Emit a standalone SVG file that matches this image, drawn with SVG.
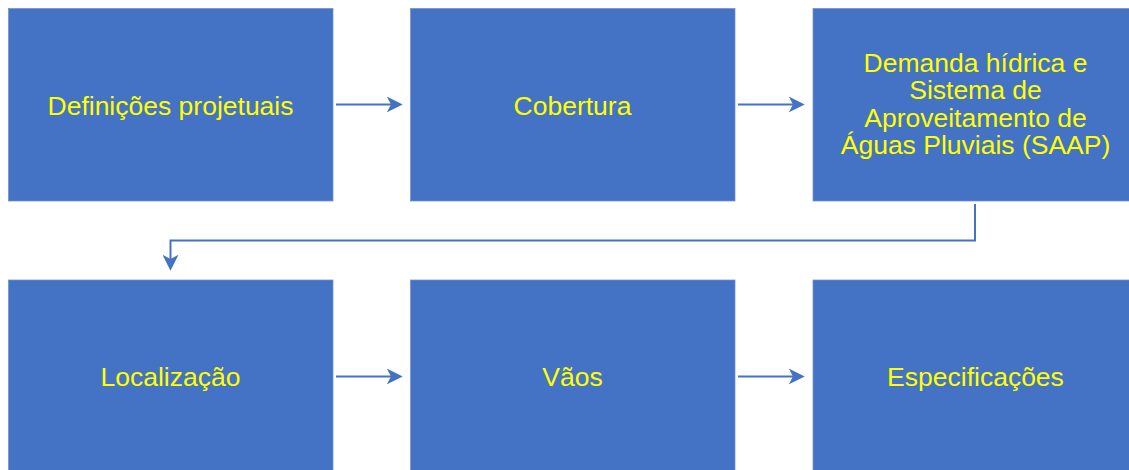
<svg xmlns="http://www.w3.org/2000/svg" width="1129" height="470" viewBox="0 0 1129 470">
<style>
.box{fill:#4472C4;stroke:#6F8FD0;stroke-width:0.75}
.lbl{font-family:"Liberation Sans",Arial,sans-serif;font-size:26.5px;fill:#FFFF00;text-anchor:middle}
.conn{fill:none;stroke:#4472C4;stroke-width:2}
</style>
<defs>
<marker id="ah" markerUnits="userSpaceOnUse" markerWidth="16" markerHeight="16" refX="4" refY="7.5" orient="auto" viewBox="0 0 15 15">
<path d="M0,0 L15,7.5 L0,15 L4,7.5 Z" fill="#4472C4"/>
</marker>
</defs>
<rect width="1129" height="470" fill="#FFFFFF"/>
<g id="n1"><rect class="box" x="8.5" y="8.5" width="324.5" height="192.5"/><text class="lbl" x="170.5" y="114.5">Definições projetuais</text></g>
<g id="n2"><rect class="box" x="410.5" y="8.5" width="324.5" height="192.5"/><text class="lbl" x="572.5" y="114.5">Cobertura</text></g>
<g id="n3"><rect class="box" x="813" y="8.5" width="325" height="192.5"/><text class="lbl" x="975.5"><tspan x="975.5" y="71.5">Demanda hídrica e</tspan><tspan x="975.5" y="99">Sistema de</tspan><tspan x="975.5" y="126.5">Aproveitamento de</tspan><tspan x="975.5" y="153.5">Águas Pluviais (SAAP)</tspan></text></g>
<g id="n4"><rect class="box" x="8.5" y="280" width="324.5" height="193"/><text class="lbl" x="170.5" y="386">Localização</text></g>
<g id="n5"><rect class="box" x="410.5" y="280" width="324.5" height="193"/><text class="lbl" x="572.5" y="386">Vãos</text></g>
<g id="n6"><rect class="box" x="813" y="280" width="325" height="193"/><text class="lbl" x="975.5" y="386">Especificações</text></g>
<g id="connectors">
<path class="conn" d="M336,104.5 H391" marker-end="url(#ah)"/>
<path class="conn" d="M738,104.5 H793" marker-end="url(#ah)"/>
<path class="conn" d="M975,204 V240.5 H170.5 V259" marker-end="url(#ah)"/>
<path class="conn" d="M336,376.5 H391" marker-end="url(#ah)"/>
<path class="conn" d="M738,376.5 H793" marker-end="url(#ah)"/>
</g>
</svg>
